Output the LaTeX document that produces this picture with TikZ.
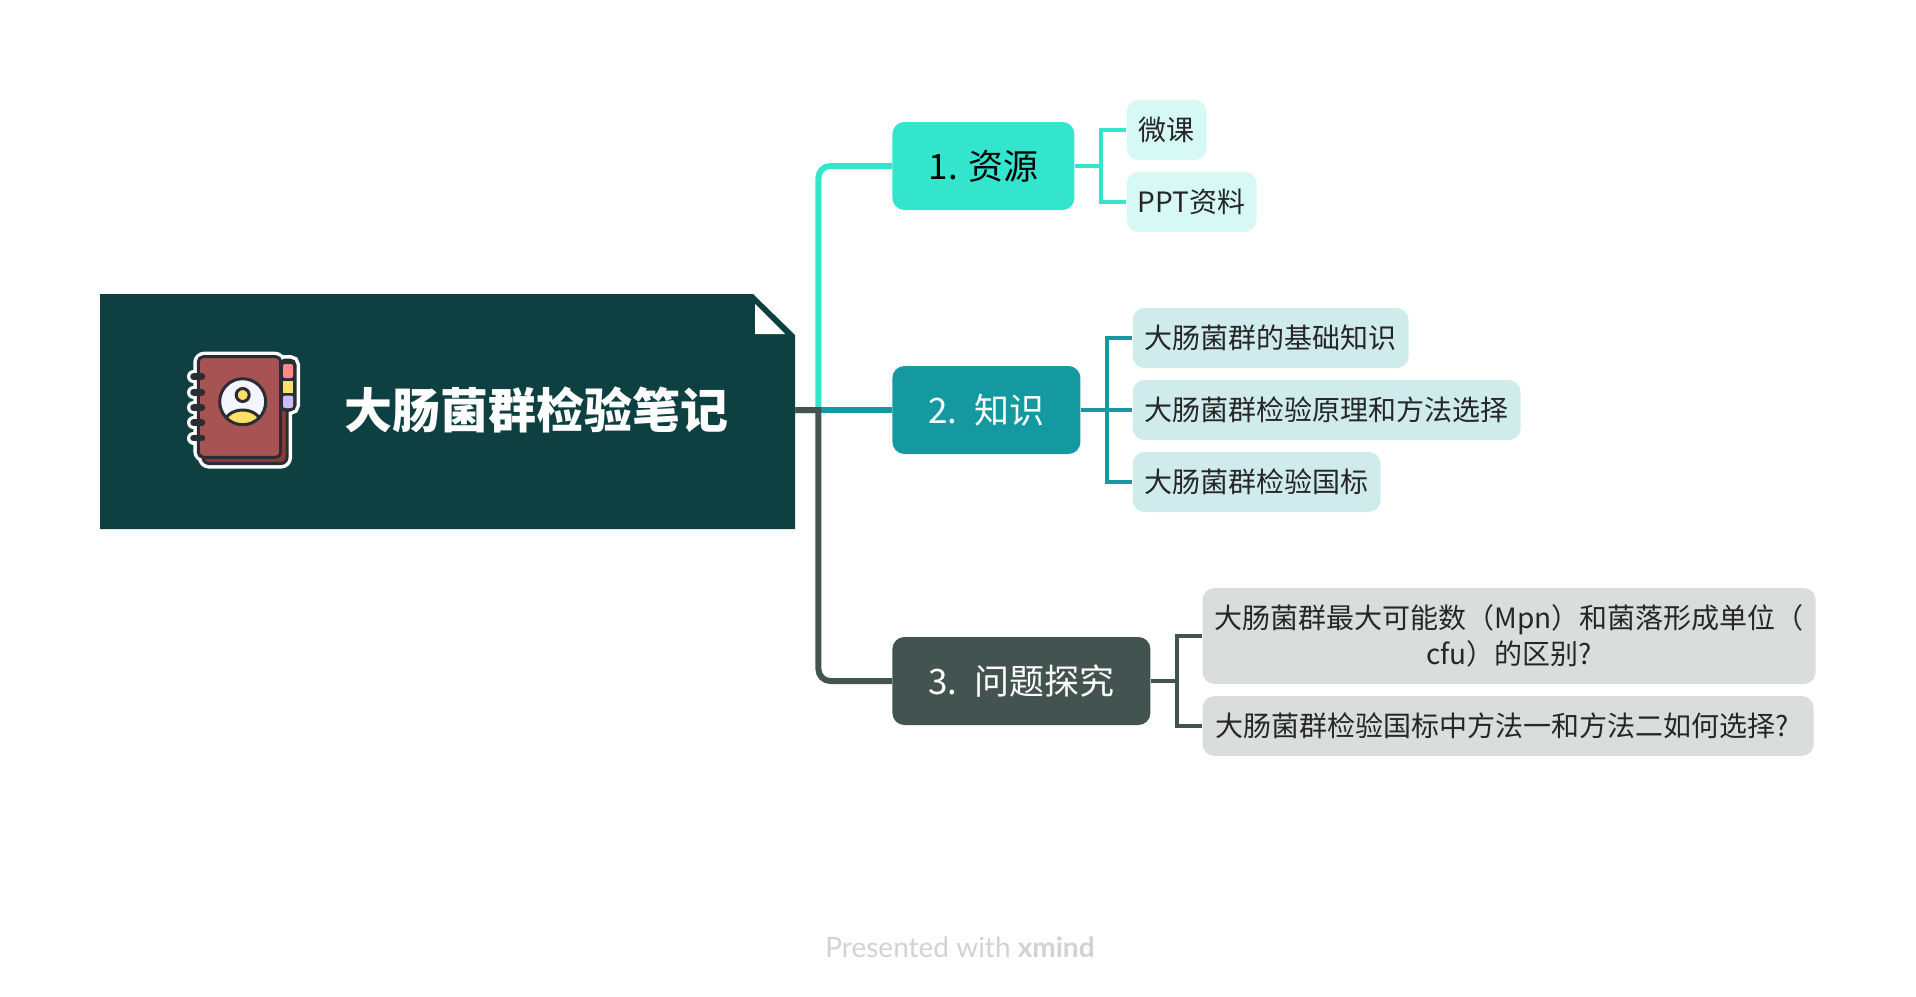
\documentclass[tikz,border=0pt]{standalone}
\usepackage{fontspec}
\setmainfont{Noto Sans CJK SC}
\newfontfamily\footerfont{Lato}
\definecolor{rootcol}{HTML}{0E4042}
\definecolor{rescol}{HTML}{33E5CD}
\definecolor{knowcol}{HTML}{13999F}
\definecolor{questcol}{HTML}{435350}
\definecolor{respale}{HTML}{D6F9F5}
\definecolor{knowpale}{HTML}{D0EBEC}
\definecolor{questpale}{HTML}{DADDDC}
\definecolor{inkcol}{HTML}{2A2D34}
\definecolor{covercol}{HTML}{A85353}
\definecolor{backcol}{HTML}{8E3B36}
\definecolor{sunny}{HTML}{FFE066}
\definecolor{pinktab}{HTML}{FF8A8A}
\definecolor{violettab}{HTML}{CDBBFF}
\definecolor{footcol}{HTML}{D2D2D2}
\begin{document}
\begin{tikzpicture}[
    x=1pt, y=-1pt,
    grow'=right,
    level 1/.style={sibling distance=244pt, level distance=444.5pt,
        edge from parent/.style={draw, line width=6pt},
        edge from parent path={(\tikzparentnode.east) -- ++(26,0) ++(-3,0) [rounded corners=12pt] |- (\tikzchildnode.west)}},
    level 2/.style={sibling distance=72pt,
        edge from parent/.style={draw, line width=4pt},
        edge from parent path={(\tikzparentnode.east) -- ++(26,0) |- (\tikzchildnode.west)}},
    straightedge/.style={edge from parent path={(\tikzparentnode.east) -- (\tikzchildnode.west)}},
    hub/.style={anchor=west, inner sep=0pt, minimum width=695pt, minimum height=235pt},
    topic/.style={anchor=west, rounded corners=12pt, inner sep=0pt, minimum height=88pt,
        font=\fontsize{35}{42}\selectfont},
    leaf/.style={anchor=west, rounded corners=12pt, inner sep=0pt, minimum height=60pt,
        text=black!85, align=center, font=\fontsize{28}{36}\selectfont},
    reschild/.style={level distance=143pt},
    knowchild/.style={level distance=146pt},
    questchild/.style={level distance=181pt, sibling distance=90pt},
    ink/.style={draw=inkcol, line width=3pt},
    halo/.style={draw=white, line width=10pt, line cap=round}
]
\useasboundingbox (0,0) rectangle (1916,996);

% central sheet with its folded corner
\fill[rootcol] (100,294) -- (753,294) -- (795,335) -- (795,529) -- (100,529) -- cycle;
\fill[white] (755,304) -- (755,334) -- (785,334) -- cycle;

% notebook icon
\foreach \ringy in {376.7,392.3,407.7,422.7,438}
    \draw[halo, line width=13pt] (193.5,\ringy) -- (202,\ringy);
\draw[halo, rounded corners=6pt] (203,362) rectangle (287,463.5);
\draw[halo, rounded corners=6pt] (198.3,356.7) rectangle (280.7,457.3);
\draw[halo, rounded corners=5pt] (280,360) rectangle (295,410);
\draw[ink, fill=backcol, rounded corners=6pt] (203,362) rectangle (287,463.5);
\draw[ink, fill=inkcol, rounded corners=5pt] (280,360) rectangle (295,410);
\fill[pinktab, rounded corners=2pt] (283,364) rectangle (293,378);
\fill[sunny] (283,380.5) rectangle (293,393);
\fill[violettab, rounded corners=2pt] (283,395.5) rectangle (293,408);
\draw[ink, fill=covercol, rounded corners=5pt] (198.3,356.7) rectangle (280.7,457.3);
\foreach \ringy in {376.7,392.3,407.7,422.7,438}
    \draw[inkcol, line width=6.5pt, line cap=round] (193.5,\ringy) -- (202,\ringy);
\fill[white!96!blue] (242.7,401.7) circle (23);
\begin{scope}
    \clip (242.7,401.7) circle (23);
    \draw[ink, fill=sunny] (242.7,425) ellipse (19 and 15);
\end{scope}
\draw[ink] (242.7,401.7) circle (23);
\draw[ink, fill=sunny] (242.7,395) circle (6.5);

% title
\node[text=white, font=\fontsize{48}{56}\selectfont\bfseries] (title) at (536,410) {大肠菌群检验笔记};

% Branches
\node[hub] (root) at (100,410) {}
    child[color=rescol] {
        node[topic, fill=rescol, text=black, minimum width=182pt] (res) {1. 资源}
        child[reschild] { node[leaf, fill=respale, minimum width=80pt] (weike) {微课} }
        child[reschild] { node[leaf, fill=respale, minimum width=130pt] (pptdoc) {PPT资料} }
    }
    child[color=knowcol, straightedge] {
        node[topic, fill=knowcol, text=white, minimum width=188pt] (know) {2.\hspace{7pt} 知识}
        child[knowchild] { node[leaf, fill=knowpale, minimum width=276pt] (basics) {大肠菌群的基础知识} }
        child[knowchild] { node[leaf, fill=knowpale, minimum width=388pt] (method) {大肠菌群检验原理和方法选择} }
        child[knowchild] { node[leaf, fill=knowpale, minimum width=248pt] (nation) {大肠菌群检验国标} }
    }
    child[color=questcol, yshift=-27pt] {
        node[topic, fill=questcol, text=white, minimum width=258pt] (quest) {3.\hspace{7pt} 问题探究}
        child[questchild] { node[leaf, fill=questpale, minimum width=613pt, minimum height=96pt] (mpn) {大肠菌群最大可能数（Mpn）和菌落形成单位（\\cfu）的区别?\hspace{18pt}} }
        child[questchild] { node[leaf, fill=questpale, minimum width=611pt] (choose) {大肠菌群检验国标中方法一和方法二如何选择?\hspace{12pt}} }
    };

% footer
\node[text=footcol, font=\fontsize{28}{32}\selectfont\footerfont] (footer) at (960,947) {Presented with \textbf{xmind}};
\end{tikzpicture}
\end{document}
